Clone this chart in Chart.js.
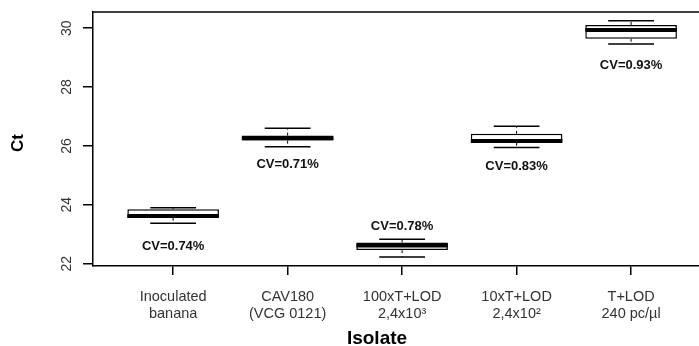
<!DOCTYPE html>
<html>
<head>
<meta charset="utf-8">
<script src="https://cdn.jsdelivr.net/npm/chart.js@4.4.1/dist/chart.umd.min.js"></script>
<style>
  html, body { margin: 0; padding: 0; background: #fff; }
  #wrap { width: 699px; height: 346px; }
</style>
</head>
<body>
<div id="wrap"><canvas id="chart"></canvas></div>
<script>
// isolates (x positions 1..5)
const isolates = [
    ['Inoculated', 'banana'],
    ['CAV180', '(VCG 0121)'],
    ['100xT+LOD', '2,4x10³'],
    ['10xT+LOD', '2,4x10²'],
    ['T+LOD', '240 pc/µl']
];
const xPos = [1, 2, 3, 4, 5];

// box plot stats (Ct)
const whiskerLow = [23.37, 25.97, 22.23, 25.95, 29.46];
const q1 = [23.56, 26.18, 22.46, 26.11, 29.64];
const medians = [23.62, 26.26, 22.62, 26.17, 29.94];
const q3 = [23.85, 26.35, 22.72, 26.41, 30.11];
const whiskerHigh = [23.90, 26.60, 22.83, 26.67, 30.25];

// coefficient of variation labels and where they sit
const cvLabels = ['CV=0.74%', 'CV=0.71%', 'CV=0.78%', 'CV=0.83%', 'CV=0.93%'];
const cvAt = [22.60, 25.38, 23.28, 25.29, 28.73];

const yTicks = [22, 24, 26, 28, 30];

const boxExtras = {
    id: 'boxExtras',
    afterDatasetsDraw(chart) {
        const ctx = chart.ctx;
        const x = chart.scales.x;
        const y = chart.scales.y;
        const half = (x.getPixelForValue(1.4) - x.getPixelForValue(1)) ;
        const capHalf = half / 2;
        ctx.save();
        ctx.strokeStyle = '#000';
        xPos.forEach((v, i) => {
            const cx = x.getPixelForValue(v);
            // dashed whiskers
            ctx.lineWidth = 1;
            ctx.setLineDash([3, 3]);
            ctx.beginPath();
            ctx.moveTo(cx, y.getPixelForValue(q3[i]));
            ctx.lineTo(cx, y.getPixelForValue(whiskerHigh[i]));
            ctx.moveTo(cx, y.getPixelForValue(q1[i]));
            ctx.lineTo(cx, y.getPixelForValue(whiskerLow[i]));
            ctx.stroke();
            ctx.setLineDash([]);
            // caps
            ctx.lineWidth = 1.5;
            ctx.beginPath();
            [whiskerHigh[i], whiskerLow[i]].forEach(w => {
                const py = y.getPixelForValue(w);
                ctx.moveTo(cx - capHalf, py);
                ctx.lineTo(cx + capHalf, py);
            });
            ctx.stroke();
            // median
            ctx.lineWidth = 4;
            ctx.lineCap = 'butt';
            ctx.beginPath();
            const my = y.getPixelForValue(medians[i]);
            ctx.moveTo(cx - half, my);
            ctx.lineTo(cx + half, my);
            ctx.stroke();
            // CV text
            ctx.fillStyle = '#111';
            ctx.font = 'bold 13px "Liberation Sans", Arial, sans-serif';
            ctx.textAlign = 'center';
            ctx.textBaseline = 'middle';
            ctx.fillText(cvLabels[i], cx, y.getPixelForValue(cvAt[i]));
        });
        ctx.restore();
    },
    afterDraw(chart) {
        const ctx = chart.ctx;
        const area = chart.chartArea;
        const y = chart.scales.y;
        ctx.save();
        // top frame line
        ctx.strokeStyle = '#000';
        ctx.lineWidth = 1.5;
        ctx.beginPath();
        ctx.moveTo(area.left, area.top);
        ctx.lineTo(area.right, area.top);
        ctx.stroke();
        // rotated y tick labels, R style
        ctx.fillStyle = '#333';
        ctx.font = '14px "Liberation Sans", Arial, sans-serif';
        ctx.textAlign = 'center';
        ctx.textBaseline = 'middle';
        yTicks.forEach(t => {
            ctx.save();
            ctx.translate(67, y.getPixelForValue(t));
            ctx.rotate(-Math.PI / 2);
            ctx.fillText(String(t), 0, 0);
            ctx.restore();
        });
        // axis titles
        ctx.fillStyle = '#000';
        ctx.font = 'bold 17px "Liberation Sans", Arial, sans-serif';
        ctx.save();
        ctx.translate(18, 143);
        ctx.rotate(-Math.PI / 2);
        ctx.fillText('Ct', 0, 0);
        ctx.restore();
        ctx.font = 'bold 19px "Liberation Sans", Arial, sans-serif';
        ctx.fillText('Isolate', 377, 339);
        ctx.restore();
    }
};

const config = {
    type: 'bar',
    data: {
        datasets: [{
            data: xPos.map((v, i) => ({ x: v, y: [q1[i], q3[i]] })),
            backgroundColor: '#fff',
            borderColor: '#000',
            borderWidth: 1.5,
            borderSkipped: false,
            barPercentage: 0.8,
            categoryPercentage: 1.0
        }]
    },
    options: {
        responsive: true,
        maintainAspectRatio: false,
        animation: false,
        layout: { padding: { top: 12, right: 0, left: 0, bottom: 0 } },
        plugins: {
            legend: { display: false },
            tooltip: { enabled: false }
        },
        scales: {
            x: {
                type: 'linear',
                offset: false,
                min: 0.3,
                max: 5.593,
                afterBuildTicks: scale => { scale.ticks = xPos.map(v => ({ value: v })); },
                afterFit: scale => { scale.height = 80; },
                grid: {
                    offset: false,
                    drawOnChartArea: false,
                    drawTicks: true,
                    tickLength: 9,
                    color: '#000',
                    lineWidth: 1.5
                },
                border: { display: true, color: '#000', width: 1.5 },
                ticks: {
                    autoSkip: false,
                    maxRotation: 0,
                    padding: 13,
                    color: '#333',
                    font: { family: '"Liberation Sans", Arial, sans-serif', size: 14.5, lineHeight: 1.2 },
                    callback: value => isolates[xPos.indexOf(value)] || ''
                }
            },
            y: {
                min: 21.92,
                max: 30.55,
                afterBuildTicks: scale => { scale.ticks = yTicks.map(v => ({ value: v })); },
                afterFit: scale => { scale.width = 93; },
                grid: {
                    drawOnChartArea: false,
                    drawTicks: true,
                    tickLength: 10,
                    color: '#000',
                    lineWidth: 1.5
                },
                border: { display: true, color: '#000', width: 1.5 },
                ticks: { display: false }
            }
        }
    },
    plugins: [boxExtras]
};

new Chart(document.getElementById('chart').getContext('2d'), config);
</script>
</body>
</html>
